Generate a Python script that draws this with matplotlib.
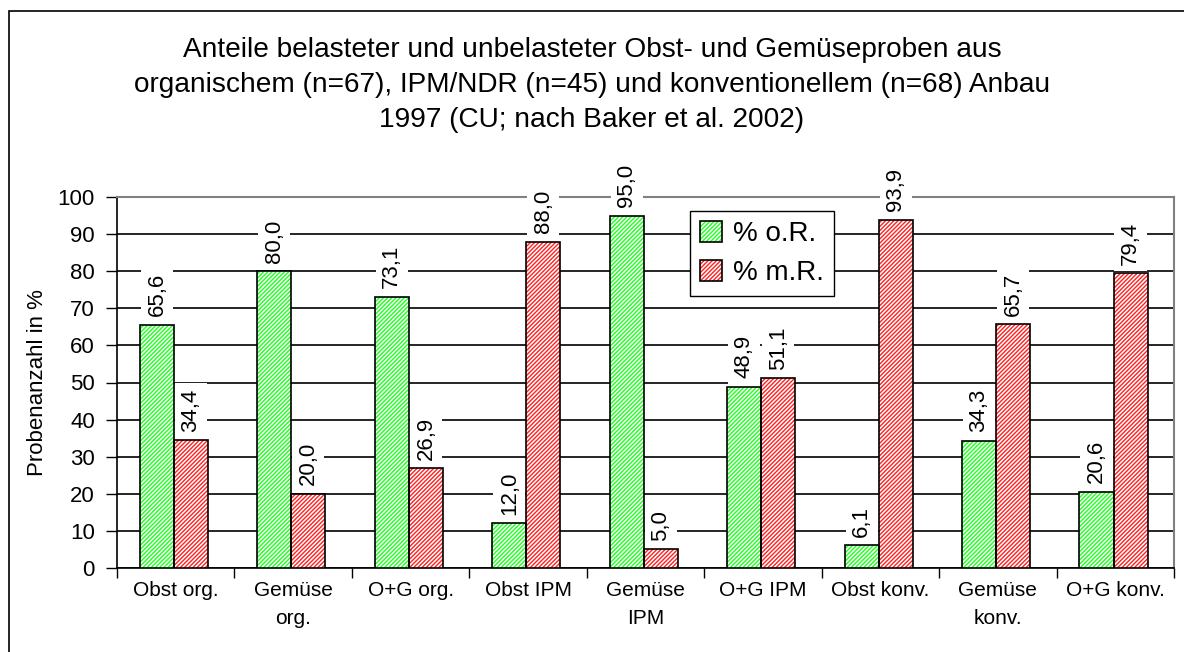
import numpy as np
import matplotlib
matplotlib.use("Agg")
import matplotlib.pyplot as plt
from matplotlib.patches import Patch, Rectangle
from matplotlib.legend_handler import HandlerTuple

plt.rcParams['font.family'] = ['Liberation Sans', 'DejaVu Sans']
plt.rcParams['hatch.linewidth'] = 1.1

categories = ["Obst org.", "Gemüse\norg.", "O+G org.", "Obst IPM", "Gemüse\nIPM",
              "O+G IPM", "Obst konv.", "Gemüse\nkonv.", "O+G konv."]
ohne_r = [65.6, 80.0, 73.1, 12.0, 95.0, 48.9, 6.1, 34.3, 20.6]
mit_r = [34.4, 20.0, 26.9, 88.0, 5.0, 51.1, 93.9, 65.7, 79.4]
series_names = ["% o.R.", "% m.R."]

title = ("Anteile belasteter und unbelasteter Obst- und Gemüseproben aus\n"
         "organischem (n=67), IPM/NDR (n=45) und konventionellem (n=68) Anbau\n"
         "1997 (CU; nach Baker et al. 2002)")

green = '#22ff22'
red = '#ff2222'
hatch = '////////'

fig = plt.figure(figsize=(11.84, 6.52), dpi=100)
ax = fig.add_axes([117/1184, 1-568/652, (1174-117)/1184, (568-197)/652])

# outer chart border (only left/top visible in the reference)
fig.add_artist(Rectangle((9/1184, -0.1), 1.2, 1 - 11/652 + 0.1, transform=fig.transFigure,
                         fill=False, edgecolor='black', linewidth=1.2))

x = np.arange(len(categories))
w = 0.29
handles = []
for vals, col, off in [(ohne_r, green, -0.16), (mit_r, red, 0.13)]:
    ax.bar(x + off, vals, w, color=col, edgecolor='white', hatch=hatch, linewidth=0, zorder=3)
    ax.bar(x + off, vals, w, fill=False, edgecolor='black', linewidth=1.2, zorder=4)
    for xi, v in zip(x, vals):
        ax.annotate(f"{v:.1f}".replace('.', ','), (xi + off, v), xytext=(0, 6),
                    textcoords='offset points', rotation=90, ha='center', va='bottom',
                    fontsize=16, zorder=5,
                    bbox=dict(boxstyle='square,pad=0.25', facecolor='white', edgecolor='none'))
    handles.append((Patch(facecolor=col, edgecolor='white', hatch=hatch, linewidth=0),
                    Patch(fill=False, edgecolor='black', linewidth=1.2)))

ax.set_xlim(-0.5, len(categories) - 0.5)
ax.set_ylim(0, 100)
ax.set_yticks(np.arange(0, 101, 10))
ax.tick_params(axis='y', labelsize=16, length=8, width=1, pad=8)
ax.set_xticks(x)
ax.set_xticklabels(categories, fontsize=15)
ax.tick_params(axis='x', which='major', length=0, pad=9)
ax.set_xticks(np.arange(-0.5, len(categories), 1), minor=True)
ax.tick_params(axis='x', which='minor', length=7, width=1)
for lab in ax.get_xticklabels():
    lab.set_verticalalignment('top')
    lab.set_linespacing(1.6)

ax.yaxis.grid(True, color='black', linewidth=1.2, zorder=0)
ax.set_axisbelow(True)
for s in ['top', 'right']:
    ax.spines[s].set_color('#808080')
    ax.spines[s].set_linewidth(1.5)
ax.spines['left'].set_linewidth(1.2)
ax.spines['bottom'].set_linewidth(1.2)

ax.set_ylabel("Probenanzahl in %", fontsize=16, labelpad=7)

fig.text(0.5, 1 - 37/652, title, ha='center', va='top', fontsize=20.2, linespacing=1.45)

leg = ax.legend(handles, series_names, handler_map={tuple: HandlerTuple(ndivide=1)},
                loc='upper left', bbox_to_anchor=(0.542, 0.962), fontsize=20,
                frameon=True, fancybox=False, edgecolor='black', framealpha=1,
                handlelength=0.8, handleheight=0.8, handletextpad=0.4,
                borderpad=0.35, labelspacing=0.45, borderaxespad=0)
leg.get_frame().set_linewidth(1)
leg.set_zorder(10)

fig.savefig("out.png", dpi=100)
